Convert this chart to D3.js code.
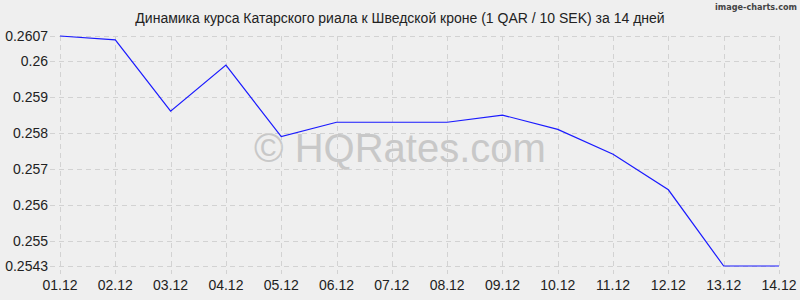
<!DOCTYPE html>
<html><head><meta charset="utf-8">
<script src="https://cdn.jsdelivr.net/npm/d3@7"></script>
<style>body{margin:0;background:#efefef}svg{display:block}</style>
</head><body>
<svg id="c" width="800" height="300"></svg>
<script>
const dates = ["01.12","02.12","03.12","04.12","05.12","06.12","07.12","08.12","09.12","10.12","11.12","12.12","13.12","14.12"];
const rates = [0.2607,0.26059,0.25861,0.25989,0.25790,0.25830,0.25830,0.25830,0.25850,0.25810,0.25741,0.25642,0.2543,0.2543];
const yTicks = [0.2543,0.255,0.256,0.257,0.258,0.259,0.26,0.2607];
const title = "Динамика курса Катарского риала к Шведской кроне (1 QAR / 10 SEK) за 14 дней";

const svg = d3.select("#c");
svg.append("rect").attr("width",800).attr("height",300).attr("fill","#efefef");
const x = d3.scalePoint().domain(dates).range([60,779]);
const y = d3.scaleLinear().domain([0.2543,0.2607]).range([266,36]);

// watermark
svg.append("text").attr("x",400).attr("y",162).attr("text-anchor","middle")
  .attr("font-family","Liberation Sans, Arial, sans-serif").attr("font-size",40)
  .attr("fill","#c8c8c8").text("© HQRates.com");

// grid
const grid = svg.append("g").attr("stroke","#d2d2d2").attr("stroke-dasharray","5,4").attr("stroke-width",1);
yTicks.forEach(t=>{
  grid.append("line").attr("x1",50).attr("x2",779).attr("y1",Math.round(y(t))+0.5).attr("y2",Math.round(y(t))+0.5);
});
dates.forEach(d=>{
  grid.append("line").attr("x1",Math.round(x(d))+0.5).attr("x2",Math.round(x(d))+0.5).attr("y1",36).attr("y2",274);
});

// y labels
svg.append("g").selectAll("text").data(yTicks).join("text")
  .attr("x",48).attr("y",d=>y(d)+5).attr("text-anchor","end")
  .attr("font-family","Liberation Sans, Arial, sans-serif").attr("font-size",14).attr("fill","#222")
  .text(d=>String(d));
// x labels
svg.append("g").selectAll("text").data(dates).join("text")
  .attr("x",d=>x(d)).attr("y",290).attr("text-anchor","middle")
  .attr("font-family","Liberation Sans, Arial, sans-serif").attr("font-size",14).attr("fill","#222")
  .text(d=>d);

// line
svg.append("path").datum(rates.map((v,i)=>[dates[i],v]))
  .attr("d",d3.line().x(d=>x(d[0])).y(d=>y(d[1])))
  .attr("fill","none").attr("stroke","#1a1aff").attr("stroke-width",1.2);

// title
svg.append("text").attr("x",400).attr("y",23).attr("text-anchor","middle")
  .attr("font-family","Liberation Sans, Arial, sans-serif").attr("font-size",14).attr("fill","#222")
  .text(title);
svg.append("text").attr("x",797).attr("y",10).attr("text-anchor","end")
  .attr("font-family","DejaVu Sans Condensed, DejaVu Sans, sans-serif").attr("font-size",9).attr("font-weight","bold").attr("fill","#444")
  .text("image-charts.com");
</script>
</body></html>
